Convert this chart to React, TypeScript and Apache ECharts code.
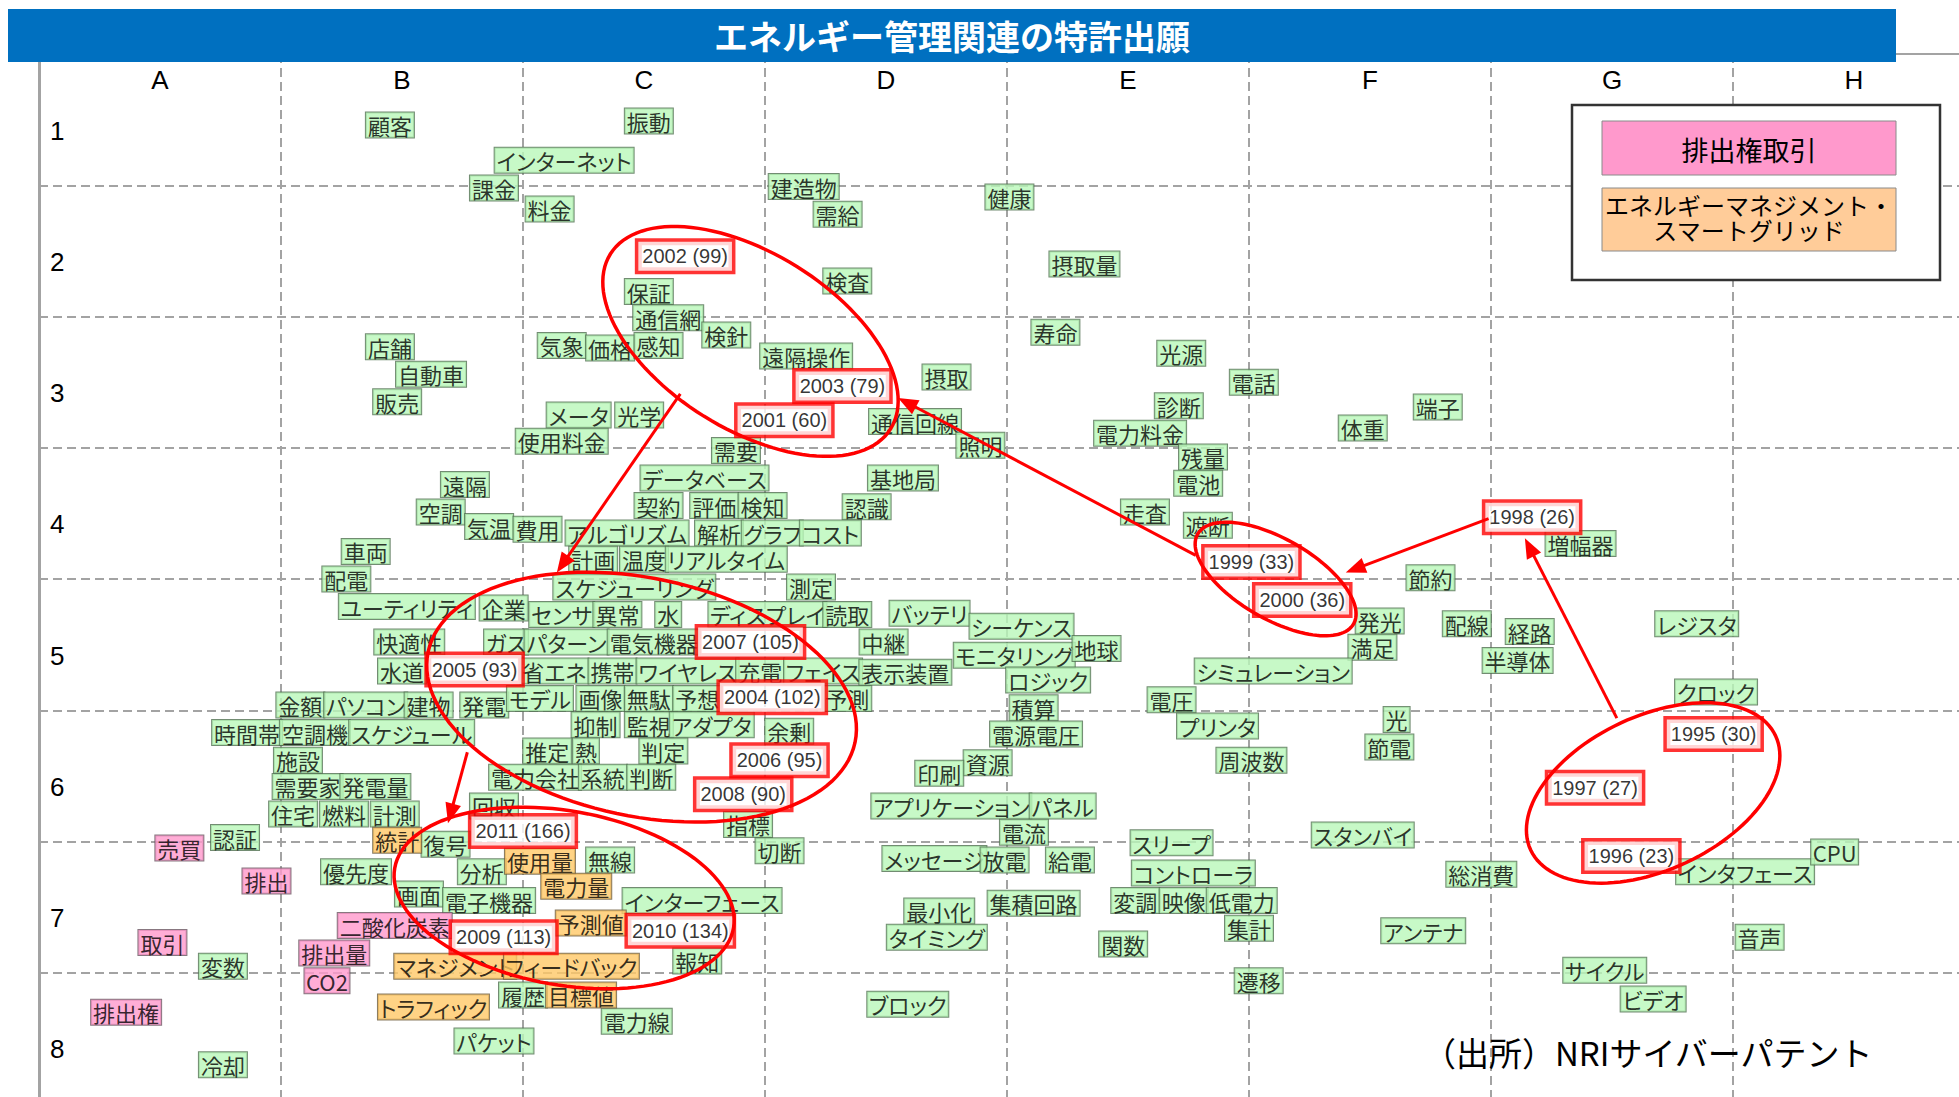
import React, { useEffect, useRef } from 'react';
import * as echarts from 'echarts';

// ---------- data ----------
const columnLabels = ['A', 'B', 'C', 'D', 'E', 'F', 'G', 'H'];
const rowLabels = ['1', '2', '3', '4', '5', '6', '7', '8'];

type Term = [string, number, number]; // [keyword, column position, row position]

const greenTerms: Term[] = [
  ['顧客', 1.45, 0.54], ['振動', 2.52, 0.51], ['インターネット', 2.17, 0.81], ['課金', 1.88, 1.02],
  ['料金', 2.11, 1.18], ['建造物', 3.16, 1.01], ['需給', 3.30, 1.22], ['健康', 4.01, 1.09],
  ['摂取量', 4.32, 1.60], ['検査', 3.34, 1.73], ['保証', 2.52, 1.81], ['通信網', 2.60, 2.01],
  ['検針', 2.84, 2.14], ['寿命', 4.20, 2.12], ['店舗', 1.45, 2.23], ['気象', 2.16, 2.22],
  ['価格', 2.36, 2.24], ['感知', 2.56, 2.22], ['遠隔操作', 3.17, 2.30], ['光源', 4.72, 2.28],
  ['自動車', 1.62, 2.44], ['摂取', 3.75, 2.46], ['電話', 5.02, 2.50], ['端子', 5.78, 2.69],
  ['販売', 1.48, 2.65], ['メータ', 2.23, 2.75], ['光学', 2.48, 2.75], ['通信回線', 3.62, 2.80],
  ['診断', 4.71, 2.68], ['使用料金', 2.16, 2.95], ['電力料金', 4.55, 2.89], ['体重', 5.47, 2.85],
  ['照明', 3.89, 2.98], ['需要', 2.88, 3.02], ['残量', 4.81, 3.07], ['遠隔', 1.76, 3.28],
  ['データベース', 2.75, 3.23], ['基地局', 3.57, 3.23], ['電池', 4.79, 3.27], ['空調', 1.66, 3.49],
  ['契約', 2.56, 3.44], ['評価', 2.79, 3.44], ['検知', 2.99, 3.44], ['認識', 3.42, 3.45],
  ['走査', 4.57, 3.49], ['遮断', 4.83, 3.59], ['気温', 1.86, 3.60], ['費用', 2.06, 3.62],
  ['アルゴリズム', 2.43, 3.65], ['解析', 2.81, 3.65], ['グラフ', 3.03, 3.65], ['コスト', 3.27, 3.65],
  ['増幅器', 6.37, 3.73], ['車両', 1.35, 3.79], ['計画', 2.29, 3.85], ['温度', 2.50, 3.85],
  ['リアルタイム', 2.84, 3.85], ['配電', 1.27, 4.00], ['スケジューリング', 2.46, 4.06], ['測定', 3.19, 4.06],
  ['節約', 5.75, 3.99], ['ユーティリティ', 1.52, 4.21], ['企業', 1.92, 4.22], ['センサ', 2.16, 4.27],
  ['異常', 2.39, 4.27], ['水', 2.60, 4.27], ['ディスプレイ', 3.01, 4.27], ['読取', 3.34, 4.27],
  ['バッテリ', 3.68, 4.26], ['発光', 5.54, 4.32], ['配線', 5.90, 4.34], ['経路', 6.16, 4.40],
  ['レジスタ', 6.85, 4.34], ['快適性', 1.53, 4.48], ['ガス', 1.93, 4.48], ['パターン', 2.18, 4.48],
  ['電気機器', 2.54, 4.48], ['中継', 3.49, 4.48], ['シーケンス', 4.06, 4.36], ['満足', 5.51, 4.52],
  ['モニタリング', 4.03, 4.58], ['地球', 4.37, 4.53], ['半導体', 6.11, 4.62], ['水道', 1.50, 4.70],
  ['省エネ', 2.13, 4.70], ['携帯', 2.37, 4.70], ['ワイヤレス', 2.68, 4.70], ['充電', 2.98, 4.70],
  ['フェイス', 3.24, 4.70], ['表示装置', 3.58, 4.71], ['シミュレーション', 5.10, 4.70], ['ロジック', 4.17, 4.77],
  ['金額', 1.08, 4.96], ['パソコン', 1.35, 4.96], ['建物', 1.61, 4.96], ['発電', 1.84, 4.96],
  ['モデル', 2.07, 4.91], ['画像', 2.32, 4.91], ['無駄', 2.52, 4.91], ['予想', 2.72, 4.91],
  ['予測', 3.34, 4.91], ['電圧', 4.68, 4.92], ['クロック', 6.93, 4.86], ['積算', 4.11, 4.98],
  ['時間帯', 0.86, 5.17], ['空調機', 1.14, 5.17], ['スケジュール', 1.54, 5.17], ['抑制', 2.30, 5.11],
  ['監視', 2.52, 5.11], ['アダプタ', 2.78, 5.11], ['余剰', 3.10, 5.16], ['プリンタ', 4.87, 5.12],
  ['光', 5.61, 5.07], ['電源電圧', 4.12, 5.18], ['施設', 1.07, 5.38], ['推定', 2.10, 5.31],
  ['熱', 2.26, 5.31], ['判定', 2.58, 5.31], ['資源', 3.92, 5.40], ['周波数', 5.01, 5.38],
  ['節電', 5.58, 5.28], ['需要家', 1.11, 5.58], ['発電量', 1.39, 5.58], ['電力会社', 2.05, 5.51],
  ['系統', 2.33, 5.51], ['判断', 2.53, 5.51], ['印刷', 3.72, 5.48], ['住宅', 1.05, 5.79],
  ['燃料', 1.26, 5.79], ['計測', 1.47, 5.79], ['回収', 1.88, 5.73], ['指標', 2.93, 5.87],
  ['アプリケーション', 3.77, 5.73], ['パネル', 4.23, 5.73], ['認証', 0.81, 5.97], ['復号', 1.68, 6.02],
  ['電流', 4.07, 5.93], ['スリープ', 4.68, 6.01], ['スタンバイ', 5.47, 5.95], ['切断', 3.06, 6.07],
  ['分析', 1.83, 6.23], ['無線', 2.36, 6.14], ['メッセージ', 3.70, 6.13], ['放電', 3.99, 6.14],
  ['給電', 4.26, 6.14], ['コントローラ', 4.77, 6.24], ['総消費', 5.96, 6.25], ['インタフェース', 7.05, 6.23],
  ['CPU', 7.42, 6.08], ['優先度', 1.31, 6.23], ['画面', 1.57, 6.40], ['電子機器', 1.86, 6.45],
  ['インターフェース', 2.74, 6.45], ['最小化', 3.72, 6.53], ['変調', 4.53, 6.45], ['映像', 4.73, 6.45],
  ['低電力', 4.97, 6.45], ['集積回路', 4.11, 6.47], ['集計', 5.00, 6.66], ['アンテナ', 5.72, 6.68],
  ['音声', 7.11, 6.73], ['関数', 4.48, 6.78], ['タイミング', 3.71, 6.73], ['報知', 2.72, 6.91],
  ['変数', 0.76, 6.95], ['サイクル', 6.47, 6.98], ['遷移', 5.04, 7.06], ['履歴', 2.00, 7.17],
  ['ブロック', 3.59, 7.24], ['ビデオ', 6.67, 7.20], ['電力線', 2.47, 7.37], ['パケット', 1.88, 7.52],
  ['冷却', 0.76, 7.70],
];

// 排出権取引
const pinkTerms: Term[] = [
  ['売買', 0.58, 6.05], ['排出', 0.94, 6.30], ['二酸化炭素', 1.47, 6.64], ['取引', 0.51, 6.77],
  ['排出量', 1.22, 6.85], ['CO2', 1.19, 7.06], ['排出権', 0.36, 7.30],
];

// エネルギーマネジメント・スマートグリッド
const orangeTerms: Term[] = [
  ['統計', 1.48, 5.99], ['使用量', 2.07, 6.15], ['電力量', 2.22, 6.34], ['予測値', 2.28, 6.62],
  ['マネジメント', 1.72, 6.95], ['フィードバック', 2.20, 6.95], ['目標値', 2.24, 7.17], ['トラフィック', 1.63, 7.26],
];

// [year, number of applications, column position, row position]
const yearTerms: [number, number, number, number][] = [
  [1995, 30, 6.92, 5.18], [1996, 23, 6.58, 6.11], [1997, 27, 6.43, 5.59], [1998, 26, 6.17, 3.53],
  [1999, 33, 5.01, 3.87], [2000, 36, 5.22, 4.16], [2001, 60, 3.08, 2.79], [2002, 99, 2.67, 1.54],
  [2003, 79, 3.32, 2.53], [2004, 102, 3.03, 4.90], [2005, 93, 1.80, 4.69], [2006, 95, 3.06, 5.38],
  [2007, 105, 2.94, 4.48], [2008, 90, 2.91, 5.64], [2009, 113, 1.92, 6.73], [2010, 134, 2.65, 6.68],
  [2011, 166, 2.00, 5.92],
];

// cluster ellipses: [centerX, centerY, axis1X, axis1Y, axis2X, axis2Y] in grid units
const clusterEllipses: number[][] = [
  [6.67, 5.63, 0.506, -0.435, 0.135, 0.532],
  [5.11, 4.00, 0.322, 0.343, -0.083, 0.264],
  [2.94, 2.19, 0.579, 0.666, -0.193, 0.569],
  [2.49, 4.90, 0.882, 0.345, -0.102, 0.887],
  [2.17, 6.43, 0.700, 0.228, -0.062, 0.653],
];

// trend arrows: [fromX, fromY, toX, toY] in grid units
const trendArrows: number[][] = [
  [6.52, 5.06, 6.14, 3.69],
  [5.99, 3.54, 5.40, 3.95],
  [4.78, 3.82, 3.55, 2.62],
  [2.65, 2.59, 2.14, 3.95],
  [1.77, 5.32, 1.69, 5.86],
];

const legendPink = '排出権取引';
const legendOrangeLines = ['エネルギーマネジメント・', 'スマートグリッド'];
const titleText = 'エネルギー管理関連の特許出願';
const sourceText = '（出所）NRIサイバーパテント';

// ---------- styles ----------
const GREEN = '#b9f8b9';
const PINK = '#ff99cc';
const ORANGE = '#ffc866';
const LEGEND_ORANGE = '#ffcc99';
const RED = '#ff0000';
const GRID_GRAY = '#a3a3a3';
const CJK = "'Noto Sans CJK JP'";
const LABEL_FONT = "'Noto Sans CJK JP', paltmark";
const LABEL_SIZE = 22;

function measureWidths(texts: string[]): number[] {
  const span = document.createElement('span');
  span.style.position = 'absolute';
  span.style.left = '-9999px';
  span.style.top = '0';
  span.style.visibility = 'hidden';
  span.style.whiteSpace = 'nowrap';
  span.style.fontSize = LABEL_SIZE + 'px';
  span.style.fontFamily = "'Noto Sans CJK JP'";
  (span.style as any).fontFeatureSettings = '"palt" 1';
  document.body.appendChild(span);
  const out = texts.map((t) => {
    span.textContent = t;
    return Math.ceil(span.getBoundingClientRect().width) + 1;
  });
  document.body.removeChild(span);
  return out;
}

function termSeries(terms: Term[], bg: string, border: string, z: number) {
  const widths = measureWidths(terms.map((t) => t[0]));
  return {
    type: 'scatter',
    xAxisIndex: 0,
    yAxisIndex: 0,
    z,
    silent: true,
    symbolSize: 1,
    itemStyle: { color: 'transparent' },
    emphasis: { disabled: true },
    data: terms.map((t, i) => ({ name: t[0], value: [t[1], t[2]], label: { width: widths[i] } })),
    label: {
      show: true,
      position: 'inside',
      formatter: '{b}',
      fontSize: LABEL_SIZE,
      lineHeight: LABEL_SIZE,
      fontFamily: LABEL_FONT,
      color: '#000',
      backgroundColor: bg,
      borderColor: border,
      borderWidth: 1,
      padding: [2, 1, 1, 1],
      align: 'center',
      verticalAlign: 'middle',
      overflow: 'none',
    },
  };
}

export default function App() {
  const ref = useRef<HTMLDivElement>(null);

  useEffect(() => {
    if (!ref.current) return;
    const chart = echarts.init(ref.current, undefined, { renderer: 'svg' });

    const dashed = { color: GRID_GRAY, width: 2, type: [9, 5] as any };

    const option: any = {
      animation: false,
      backgroundColor: '#ffffff',
      grid: { left: 39, top: 54, right: -16, bottom: -7, containLabel: false, outerBoundsMode: 'none' },
      xAxis: [
        {
          type: 'value', min: 0, max: 8, interval: 1, position: 'top',
          axisLine: { show: true, onZero: false, lineStyle: { color: GRID_GRAY, width: 2 } },
          axisTick: { show: false }, axisLabel: { show: false },
          splitLine: { show: true, showMinLine: false, showMaxLine: false, lineStyle: dashed },
        },
        {
          type: 'category', data: columnLabels, position: 'top', gridIndex: 0,
          axisLine: { show: false }, axisTick: { show: false }, splitLine: { show: false },
          axisLabel: { inside: true, margin: 13, fontSize: 26, fontFamily: 'Liberation Sans', color: '#000' },
        },
      ],
      yAxis: [
        {
          type: 'value', min: 0, max: 8, interval: 1, inverse: true,
          axisLine: { show: true, onZero: false, lineStyle: { color: GRID_GRAY, width: 3 } },
          axisTick: { show: false }, axisLabel: { show: false },
          splitLine: { show: true, showMinLine: false, showMaxLine: false, lineStyle: dashed },
        },
        {
          type: 'category', data: rowLabels, inverse: true, position: 'left',
          axisLine: { show: false }, axisTick: { show: false }, splitLine: { show: false },
          axisLabel: {
            inside: true, margin: 11, fontSize: 26, fontFamily: 'Liberation Sans', color: '#000',
            verticalAlign: 'top', lineHeight: 22,
          },
        },
      ],
      series: [
        termSeries(greenTerms, GREEN, '#4f6f4f', 2),
        termSeries(pinkTerms, PINK, '#6a5560', 2),
        termSeries(orangeTerms, ORANGE, '#6b5a3a', 2),
        {
          type: 'scatter', xAxisIndex: 0, yAxisIndex: 0, z: 3, silent: true,
          symbolSize: 1, itemStyle: { color: 'transparent' }, emphasis: { disabled: true },
          data: yearTerms.map((t) => ({ name: `${t[0]} (${t[1]})`, value: [t[2], t[3]] })),
          label: {
            show: true, position: 'inside', formatter: '{b}',
            fontSize: 20, lineHeight: 20, fontFamily: 'Liberation Sans', color: '#000',
            backgroundColor: '#ffffff', borderColor: RED, borderWidth: 3.5, padding: [5, 4, 4, 4],
            align: 'center', verticalAlign: 'middle',
          },
        },
        {
          type: 'custom', xAxisIndex: 0, yAxisIndex: 0, z: 10, silent: true,
          data: clusterEllipses,
          encode: { x: 0, y: 1 },
          renderItem: (_p: any, api: any) => {
            const cx = api.value(0), cy = api.value(1);
            const ux = api.value(2), uy = api.value(3), vx = api.value(4), vy = api.value(5);
            const pts: number[][] = [];
            const n = 120;
            for (let k = 0; k < n; k++) {
              const t = (k / n) * Math.PI * 2;
              pts.push(api.coord([cx + ux * Math.cos(t) + vx * Math.sin(t), cy + uy * Math.cos(t) + vy * Math.sin(t)]));
            }
            return { type: 'polygon', shape: { points: pts }, style: { fill: 'none', stroke: RED, lineWidth: 3.5 } };
          },
        },
        {
          type: 'custom', xAxisIndex: 0, yAxisIndex: 0, z: 10, silent: true,
          data: trendArrows,
          encode: { x: 0, y: 1 },
          renderItem: (_p: any, api: any) => {
            const p1 = api.coord([api.value(0), api.value(1)]);
            const p2 = api.coord([api.value(2), api.value(3)]);
            const dx = p2[0] - p1[0], dy = p2[1] - p1[1];
            const len = Math.hypot(dx, dy) || 1;
            const ux = dx / len, uy = dy / len;
            const headLen = 20, headW = 8;
            const bx = p2[0] - ux * headLen, by = p2[1] - uy * headLen;
            return {
              type: 'group',
              children: [
                { type: 'line', shape: { x1: p1[0], y1: p1[1], x2: bx + ux * 2, y2: by + uy * 2 }, style: { stroke: RED, lineWidth: 3 } },
                {
                  type: 'polygon',
                  shape: { points: [[p2[0], p2[1]], [bx - uy * headW, by + ux * headW], [bx + uy * headW, by - ux * headW]] },
                  style: { fill: RED },
                },
              ],
            };
          },
        },
      ],
      graphic: [
        { type: 'rect', z: 100, shape: { x: 8, y: 9, width: 1888, height: 53 }, style: { fill: '#0070c0' } },
        {
          type: 'text', z: 101, x: 952, y: 35,
          style: { text: titleText, fill: '#ffffff', fontSize: 34, fontWeight: 'bold', fontFamily: CJK, align: 'center', verticalAlign: 'middle' },
        },
        { type: 'rect', z: 100, shape: { x: 1572, y: 105, width: 368, height: 175 }, style: { fill: '#ffffff', stroke: '#333333', lineWidth: 2.5 } },
        { type: 'rect', z: 101, shape: { x: 1602, y: 121, width: 294, height: 54 }, style: { fill: PINK, stroke: '#8a8a8a', lineWidth: 1 } },
        {
          type: 'text', z: 102, x: 1749, y: 149,
          style: { text: legendPink, fill: '#000', fontSize: 27, fontFamily: CJK, align: 'center', verticalAlign: 'middle' },
        },
        { type: 'rect', z: 101, shape: { x: 1602, y: 188, width: 294, height: 63 }, style: { fill: LEGEND_ORANGE, stroke: '#8a8a8a', lineWidth: 1 } },
        {
          type: 'text', z: 102, x: 1749, y: 204,
          style: { text: legendOrangeLines[0], fill: '#000', fontSize: 24, lineHeight: 24, fontFamily: CJK, align: 'center', verticalAlign: 'middle' },
        },
        {
          type: 'text', z: 102, x: 1749, y: 229,
          style: { text: legendOrangeLines[1], fill: '#000', fontSize: 24, lineHeight: 24, fontFamily: CJK, align: 'center', verticalAlign: 'middle' },
        },
        {
          type: 'text', z: 100, x: 1423, y: 1052,
          style: { text: sourceText, fill: '#000', fontSize: 33, fontFamily: CJK, align: 'left', verticalAlign: 'middle' },
        },
      ],
    };

    chart.setOption(option);

    const texts = ref.current.querySelectorAll('text');
    texts.forEach((el) => {
      const s = (el.getAttribute('style') || '') + (el.getAttribute('font-family') || '');
      if (s.indexOf('paltmark') >= 0) (el as any).style.fontFeatureSettings = '"palt" 1';
    });

    return () => chart.dispose();
  }, []);

  return (
    <>
      <style>{`svg text[style*="paltmark"], svg text[font-family*="paltmark"] { font-feature-settings: "palt" 1; }`}</style>
      <div
        ref={ref}
        style={{ position: 'fixed', left: 0, top: 0, width: 1959, height: 1097, background: '#ffffff' }}
      />
    </>
  );
}
